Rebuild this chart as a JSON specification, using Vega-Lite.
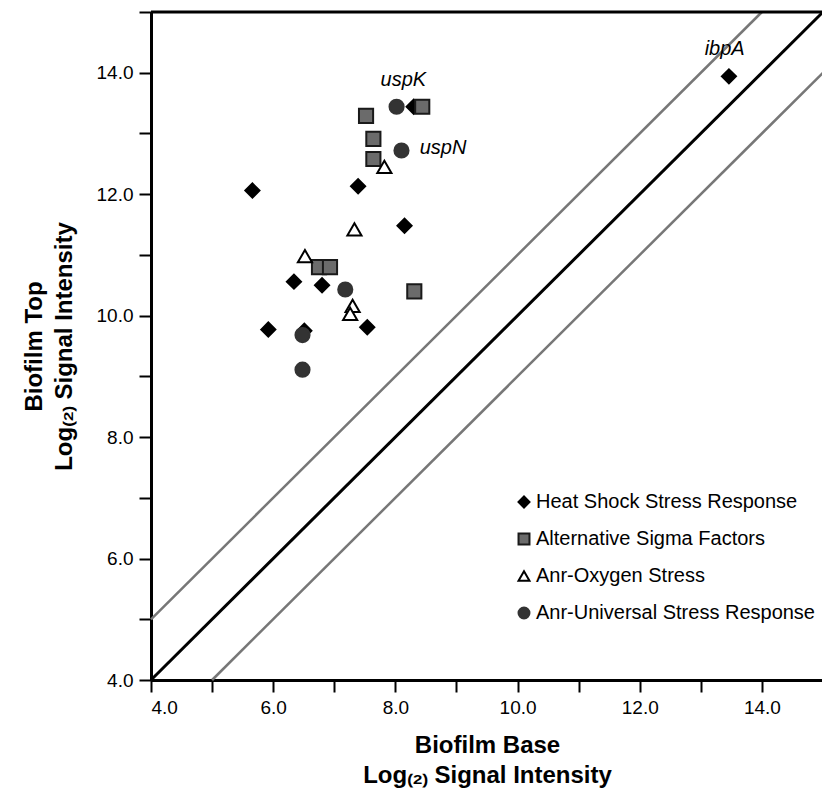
{
  "$schema": "https://vega.github.io/schema/vega-lite/v6.json",
  "width": 672,
  "height": 668,
  "autosize": "none",
  "padding": {"left": 151, "top": 12, "right": 0, "bottom": 118},
  "background": "white",
  "config": {
    "view": {"stroke": null},
    "font": "Liberation Sans"
  },
  "layer": [
    {
      "data": {"values": [
        {"kind": "upper", "x0": 4, "y0": 5, "x1": 14, "y1": 15},
        {"kind": "lower", "x0": 5, "y0": 4, "x1": 15, "y1": 14}
      ]},
      "mark": {"type": "rule", "color": "#777777", "strokeWidth": 2.5},
      "encoding": {
        "x": {"field": "x0", "type": "quantitative", "scale": {"domain": [4, 15], "nice": false, "zero": false},
          "axis": {
            "values": [4, 5, 6, 7, 8, 9, 10, 11, 12, 13, 14],
            "labelExpr": "datum.value % 2 === 0 ? format(datum.value, '.1f') : ''",
            "domainWidth": 3, "domainColor": "black", "tickWidth": 2, "tickColor": "black", "tickSize": 12,
            "labelFont": "Liberation Sans", "labelFontSize": 19, "labelColor": "black", "labelPadding": 6, "grid": false,
            "title": ["Biofilm Base", "Log₍₂₎ Signal Intensity"],
            "titleFont": "Liberation Sans", "titleFontWeight": "bold", "titleFontSize": 24,
            "titleLineHeight": 30, "titlePadding": 16, "titleColor": "black"
          }},
        "y": {"field": "y0", "type": "quantitative", "scale": {"domain": [4, 15], "nice": false, "zero": false},
          "axis": {
            "values": [4, 5, 6, 7, 8, 9, 10, 11, 12, 13, 14, 15],
            "labelExpr": "datum.value % 2 === 0 ? format(datum.value, '.1f') : ''",
            "domainWidth": 3, "domainColor": "black", "tickWidth": 2, "tickColor": "black", "tickSize": 12,
            "labelFont": "Liberation Sans", "labelFontSize": 19, "labelColor": "black", "labelPadding": 6, "grid": false,
            "title": ["Biofilm Top", "Log₍₂₎ Signal Intensity"],
            "titleFont": "Liberation Sans", "titleFontWeight": "bold", "titleFontSize": 24,
            "titleLineHeight": 30, "titlePadding": 20, "titleColor": "black"
          }},
        "x2": {"field": "x1"},
        "y2": {"field": "y1"}
      }
    },
    {
      "data": {"values": [{"x0": 4, "y0": 4, "x1": 15, "y1": 15}]},
      "mark": {"type": "rule", "color": "black", "strokeWidth": 3},
      "encoding": {
        "x": {"field": "x0", "type": "quantitative"},
        "y": {"field": "y0", "type": "quantitative"},
        "x2": {"field": "x1"},
        "y2": {"field": "y1"}
      }
    },
    {
      "data": {"values": [{"y": 15}]},
      "mark": {"type": "rule", "color": "black", "strokeWidth": 3},
      "encoding": {"y": {"field": "y", "type": "quantitative"}}
    },
    {
      "data": {"values": [
        {"group": "Heat Shock Stress Response", "base": 5.66, "top": 12.06},
        {"group": "Heat Shock Stress Response", "base": 7.39, "top": 12.13},
        {"group": "Heat Shock Stress Response", "base": 8.15, "top": 11.48},
        {"group": "Heat Shock Stress Response", "base": 6.34, "top": 10.56},
        {"group": "Heat Shock Stress Response", "base": 6.80, "top": 10.50},
        {"group": "Heat Shock Stress Response", "base": 7.54, "top": 9.81},
        {"group": "Heat Shock Stress Response", "base": 5.92, "top": 9.77},
        {"group": "Heat Shock Stress Response", "base": 6.51, "top": 9.75},
        {"group": "Heat Shock Stress Response", "base": 8.30, "top": 13.44},
        {"group": "Heat Shock Stress Response", "base": 13.46, "top": 13.94},
        {"group": "Alternative Sigma Factors", "base": 8.44, "top": 13.44},
        {"group": "Alternative Sigma Factors", "base": 7.52, "top": 13.29},
        {"group": "Alternative Sigma Factors", "base": 7.64, "top": 12.91},
        {"group": "Alternative Sigma Factors", "base": 7.64, "top": 12.58},
        {"group": "Alternative Sigma Factors", "base": 6.75, "top": 10.80},
        {"group": "Alternative Sigma Factors", "base": 6.93, "top": 10.80},
        {"group": "Alternative Sigma Factors", "base": 8.31, "top": 10.40},
        {"group": "Anr-Oxygen Stress", "base": 7.82, "top": 12.45},
        {"group": "Anr-Oxygen Stress", "base": 7.33, "top": 11.42},
        {"group": "Anr-Oxygen Stress", "base": 6.52, "top": 10.98},
        {"group": "Anr-Oxygen Stress", "base": 7.30, "top": 10.16},
        {"group": "Anr-Oxygen Stress", "base": 7.26, "top": 10.03},
        {"group": "Anr-Universal Stress Response", "base": 8.02, "top": 13.44},
        {"group": "Anr-Universal Stress Response", "base": 8.10, "top": 12.72},
        {"group": "Anr-Universal Stress Response", "base": 7.18, "top": 10.43},
        {"group": "Anr-Universal Stress Response", "base": 6.48, "top": 9.68},
        {"group": "Anr-Universal Stress Response", "base": 6.48, "top": 9.11}
      ]},
      "mark": {"type": "point", "opacity": 1, "strokeWidth": 2, "size": 200},
      "encoding": {
        "x": {"field": "base", "type": "quantitative"},
        "y": {"field": "top", "type": "quantitative"},
        "shape": {"field": "group", "type": "nominal",
          "scale": {"domain": ["Heat Shock Stress Response", "Alternative Sigma Factors", "Anr-Oxygen Stress", "Anr-Universal Stress Response"],
                    "range": ["diamond", "square", "triangle-up", "circle"]},
          "legend": {"title": null, "orient": "none", "legendX": 363, "legendY": 480, "padding": 0,
            "labelFontSize": 20, "labelFont": "Liberation Sans", "labelColor": "black", "labelOffset": 2,
            "symbolSize": 120, "symbolStrokeWidth": 2, "rowPadding": 17, "labelLimit": 400}},
        "fill": {"field": "group", "type": "nominal",
          "scale": {"domain": ["Heat Shock Stress Response", "Alternative Sigma Factors", "Anr-Oxygen Stress", "Anr-Universal Stress Response"],
                    "range": ["#000000", "#6b6b6b", "#ffffff", "#333333"]},
          "legend": {"title": null, "orient": "none", "legendX": 363, "legendY": 480, "padding": 0,
            "labelFontSize": 20, "labelFont": "Liberation Sans", "labelColor": "black", "labelOffset": 2,
            "symbolSize": 120, "symbolStrokeWidth": 2, "rowPadding": 17, "labelLimit": 400}},
        "stroke": {"field": "group", "type": "nominal",
          "scale": {"domain": ["Heat Shock Stress Response", "Alternative Sigma Factors", "Anr-Oxygen Stress", "Anr-Universal Stress Response"],
                    "range": ["#000000", "#1a1a1a", "#000000", "#333333"]},
          "legend": {"title": null, "orient": "none", "legendX": 363, "legendY": 480, "padding": 0,
            "labelFontSize": 20, "labelFont": "Liberation Sans", "labelColor": "black", "labelOffset": 2,
            "symbolSize": 120, "symbolStrokeWidth": 2, "rowPadding": 17, "labelLimit": 400}}
      }
    },
    {
      "data": {"values": [
        {"label": "uspK", "lx": 8.13, "ly": 13.88},
        {"label": "uspN", "lx": 8.78, "ly": 12.76},
        {"label": "ibpA", "lx": 13.39, "ly": 14.39}
      ]},
      "mark": {"type": "text", "fontStyle": "italic", "fontSize": 20, "font": "Liberation Sans", "color": "black", "align": "center", "baseline": "middle"},
      "encoding": {
        "x": {"field": "lx", "type": "quantitative"},
        "y": {"field": "ly", "type": "quantitative"},
        "text": {"field": "label"}
      }
    }
  ]
}
